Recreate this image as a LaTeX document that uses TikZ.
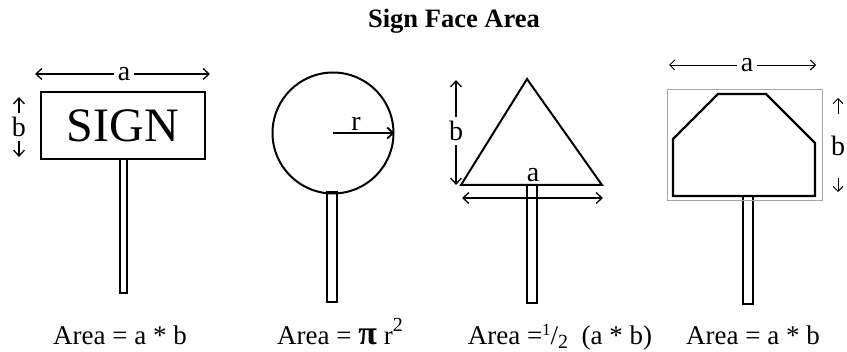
\documentclass[tikz,border=0pt]{standalone}
\usepackage{fontspec}
\setmainfont{Liberation Serif}
\usetikzlibrary{arrows.meta, positioning}

\begin{document}
\begin{tikzpicture}[
    x=1pt, y=-1pt,
    face/.style={draw, line width=2pt, line join=miter},
    post/.style={draw, line width=1.5pt},
    dim/.style={-{Straight Barb[length=6pt,width=11pt]}, line width=1.3pt},
    dimboth/.style={{Straight Barb[length=6pt,width=11pt]}-{Straight Barb[length=6pt,width=11pt]}, line width=1.3pt},
    thindim/.style={-{Straight Barb[length=5pt,width=10pt]}, line width=0.9pt},
    lbl/.style={font=\fontsize{28}{28}\selectfont, inner sep=4pt},
    area/.style={font=\fontsize{27}{30}\selectfont, anchor=base, inner sep=0pt}
]
    \useasboundingbox (0,0) rectangle (847,352);

    \node[font=\bfseries\fontsize{26.5}{28}\selectfont, anchor=base] (title) at (454,28) {Sign Face Area};

    % posts
    \draw[post] (120,159) rectangle (127,293);
    \draw[post] (327,192) rectangle (337,302);
    \draw[post] (527,185) rectangle (537,303);
    \draw[post] (743,196) rectangle (753,304);

    % rectangle sign
    \node[face, minimum width=164pt, minimum height=67pt, inner sep=0pt, font=\fontsize{48}{48}\selectfont] (sign) at (123,125.5) {SIGN};
    \node[lbl] (a1) at (124,74) {a};
    \coordinate (a1l) at (35,74);
    \coordinate (a1r) at (210,74);
    \draw[dim] (a1) -- (a1l);
    \draw[dim] (a1) -- (a1r);
    \node[lbl, inner ysep=4pt] (b1) at (19,127) {b};
    \coordinate (b1t) at (19,97);
    \coordinate (b1b) at (19,157);
    \draw[dim] (b1.north) -- (b1t);
    \draw[dim] (b1.south) -- (b1b);

    % round sign
    \node[face, circle, minimum size=121pt, inner sep=0pt] (circ) at (333,133) {};
    \draw[dim, line width=1.8pt] (circ.center) -- (circ.east);
    \node[lbl, anchor=base, inner sep=0pt] (r) at (356,131) {r};

    % triangle sign
    \coordinate (tl) at (461,185);
    \coordinate (tr) at (602,185);
    \coordinate (tt) at (527,79);
    \draw[face] (tl) -- (tt) -- (tr) -- cycle;
    \coordinate (tal) at (462,198);
    \coordinate (tar) at (603,198);
    \draw[dimboth] (tal) -- (tar);
    \node[lbl, inner sep=0pt] (a3) at (533,175) {a};
    \node[lbl] (b3) at (456,131) {b};
    \coordinate (b3t) at (456,80);
    \coordinate (b3b) at (456,185);
    \draw[dim] (b3.north) -- (b3t);
    \draw[dim] (b3.south) -- (b3b);

    % odd shaped sign
    \draw[gray!70, line width=1pt] (667,90) rectangle (822,201);
    \draw[face, line width=2.4pt] (673,139) -- (718,94) -- (766,94) -- (815,143) -- (815,196) -- (673,196) -- cycle;
    \node[lbl] (a4) at (747,65) {a};
    \coordinate (a4l) at (669,65);
    \coordinate (a4r) at (816,65);
    \draw[thindim] (a4) -- (a4l);
    \draw[thindim] (a4) -- (a4r);
    \node[lbl, inner ysep=22pt] (b4) at (838,146) {b};
    \coordinate (b4t) at (838,98);
    \coordinate (b4b) at (838,192);
    \draw[thindim] (b4.north) -- (b4t);
    \draw[thindim] (b4.south) -- (b4b);

    % formulas
    \node[area] (f1) at (120,345) {Area = a * b};
    \node[area] (f2) at (340,345) {Area = {\fontsize{34}{34}\selectfont\bfseries π} r\raisebox{0.5em}{\fontsize{20}{20}\selectfont 2}};
    \node[area] (f3) at (560,345) {Area =\raisebox{0.35em}{\fontsize{17}{17}\selectfont 1}/\raisebox{-0.12em}{\fontsize{20}{20}\selectfont 2}\ \ (a * b)};
    \node[area] (f4) at (753,345) {Area = a * b};
\end{tikzpicture}
\end{document}
